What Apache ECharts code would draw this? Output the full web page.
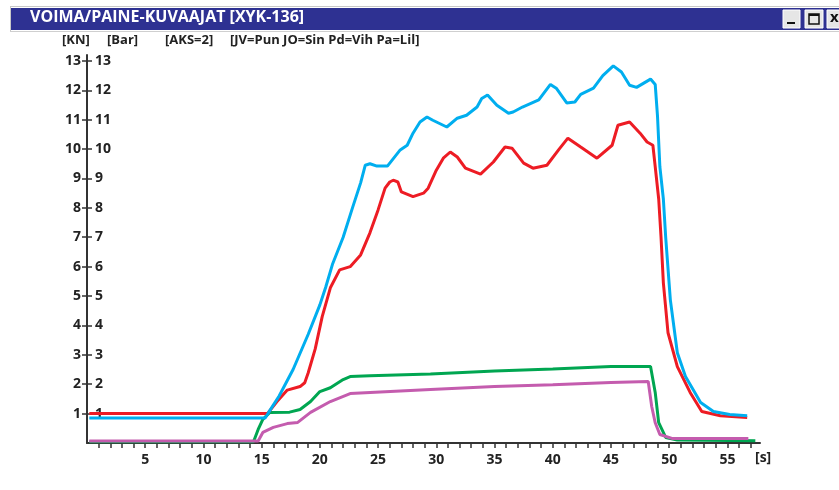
<!DOCTYPE html>
<html>
<head>
<meta charset="utf-8">
<script src="https://cdn.jsdelivr.net/npm/echarts@6/dist/echarts.min.js"></script>
<style>
html,body{margin:0;padding:0;background:#fff;}
#c{width:839px;height:490px;}
</style>
</head>
<body>
<div id="c"></div>
<script>
// ---- data ----
var titleText = 'VOIMA/PAINE-KUVAAJAT [XYK-136]';
var headerTexts = ['[KN]', '[Bar]', '[AKS=2]', '[JV=Pun JO=Sin Pd=Vih Pa=Lil]'];
var xTickValues = [];
for (var i = 1; i <= 57; i++) xTickValues.push(i);
var xLabelValues = [5, 10, 15, 20, 25, 30, 35, 40, 45, 50, 55];
var yTickValues = [1, 2, 3, 4, 5, 6, 7, 8, 9, 10, 11, 12, 13];
var xUnit = '[s]';

// JV = Pun (red)
var jvRed = [[0.2,1.0],[15.5,1.0],[16.3,1.4],[17.2,1.8],[18.3,1.92],[18.7,2.05],[19,2.39],[19.6,3.2],[20.2,4.3],[20.9,5.28],[21.7,5.89],[22.6,6.0],[23.5,6.4],[24.3,7.15],[25,7.93],[25.6,8.67],[26,8.88],[26.3,8.94],[26.7,8.88],[27,8.54],[28,8.38],[28.9,8.5],[29.3,8.67],[30,9.28],[30.6,9.69],[31.2,9.9],[31.8,9.73],[32.5,9.35],[33.8,9.15],[34.9,9.56],[35.9,10.07],[36.5,10.03],[37.5,9.52],[38.3,9.35],[39.5,9.45],[40.5,9.97],[41.3,10.37],[42.4,10.07],[43.8,9.69],[45.1,10.13],[45.6,10.81],[46.6,10.92],[47.5,10.54],[48.1,10.24],[48.6,10.13],[48.8,9.4],[49.1,8.3],[49.3,7.0],[49.5,5.45],[49.9,3.75],[50.7,2.6],[51.8,1.72],[52.8,1.07],[54.4,0.93],[56.7,0.87]];
// JO = Sin (blue)
var joBlue = [[0.2,0.85],[15.3,0.85],[15.6,1.04],[16.5,1.6],[17.7,2.5],[19,3.7],[20,4.7],[20.5,5.3],[21.1,6.1],[22,7.0],[22.8,8.0],[23.5,8.85],[23.9,9.45],[24.3,9.5],[24.9,9.42],[25.8,9.42],[26.9,9.97],[27.5,10.13],[28.0,10.54],[28.6,10.92],[29.2,11.09],[29.7,10.98],[30.9,10.75],[31.8,11.05],[32.6,11.15],[33.5,11.43],[33.9,11.72],[34.4,11.84],[35.2,11.49],[36.2,11.22],[36.6,11.26],[37.4,11.43],[38.8,11.67],[39.8,12.2],[40.3,12.07],[41.2,11.57],[41.9,11.6],[42.4,11.86],[43.5,12.07],[44.3,12.5],[45.2,12.83],[45.9,12.62],[46.6,12.17],[47.2,12.1],[48.4,12.38],[48.8,12.2],[49.0,11.1],[49.2,9.4],[49.5,8.3],[49.7,7.0],[50.1,4.87],[50.7,3.07],[51.4,2.26],[52.7,1.38],[53.8,1.07],[55.2,0.97],[56.7,0.93]];
// Pd = Vih (green)
var pdGreen = [[0.2,0.04],[14.3,0.04],[14.7,0.46],[15.1,0.8],[15.7,1.04],[17.4,1.05],[18.3,1.14],[19.2,1.41],[20,1.75],[20.9,1.88],[22,2.16],[22.6,2.26],[24.3,2.29],[29.5,2.35],[35,2.45],[40,2.52],[45,2.6],[48.4,2.6],[48.8,1.72],[49.1,0.69],[49.7,0.19],[50.7,0.1],[57.4,0.08]];
// Pa = Lil (lilac)
var paLilac = [[0.2,0.07],[14.7,0.07],[15.1,0.36],[16,0.53],[17.2,0.66],[18.1,0.7],[19.2,1.04],[20.9,1.41],[22.6,1.68],[29.5,1.82],[35,1.92],[40,1.98],[45,2.06],[48.2,2.09],[48.5,1.24],[48.8,0.69],[49.2,0.29],[50.3,0.15],[56.8,0.15]];

// ---- chart ----
var FONT = '"Open Sans", "Noto Sans", sans-serif';
var TXT = '#222';
var chart = echarts.init(document.getElementById('c'), null, {renderer: 'canvas'});

function mkLine(name, data, color) {
  return {
    name: name, type: 'line', data: data, symbol: 'none', smooth: false,
    lineStyle: {color: color, width: 3}, animation: false, silent: true
  };
}

var option = {
  backgroundColor: '#fff',
  animation: false,
  grid: {left: 87, right: 79, top: 55, bottom: 47},
  xAxis: {
    type: 'value', min: 0, max: 57.8,
    splitLine: {show: false},
    axisLine: {show: true, onZero: false, lineStyle: {color: '#333', width: 2}},
    axisTick: {show: true, length: 5, customValues: xTickValues, lineStyle: {color: '#333', width: 1.5}},
    axisLabel: {customValues: xLabelValues, color: TXT, fontFamily: FONT, fontWeight: 'bold', fontSize: 14, margin: 10}
  },
  yAxis: [{
    type: 'value', min: 0, max: 13.2, position: 'left',
    splitLine: {show: false},
    axisLine: {show: true, onZero: false, lineStyle: {color: '#333', width: 2}},
    axisTick: {show: true, length: 5, customValues: yTickValues, lineStyle: {color: '#333', width: 1.5}},
    axisLabel: {customValues: yTickValues, color: TXT, fontFamily: FONT, fontWeight: 'bold', fontSize: 14, margin: 6}
  }, {
    type: 'value', min: 0, max: 13.2, position: 'left', offset: 0,
    splitLine: {show: false},
    axisLine: {show: false},
    axisTick: {show: true, inside: true, length: 5, customValues: yTickValues, lineStyle: {color: '#333', width: 1.5}},
    axisLabel: {inside: true, customValues: yTickValues, color: TXT, fontFamily: FONT, fontWeight: 'bold', fontSize: 14, margin: 8}
  }],
  series: [
    mkLine('Pd', pdGreen, '#00a651'),
    mkLine('Pa', paLilac, '#c45cae'),
    mkLine('JV', jvRed, '#ed1c24'),
    mkLine('JO', joBlue, '#00aeef')
  ],
  graphic: [
    // window frame lines
    {type: 'rect', shape: {x: 10, y: 6, width: 829, height: 1}, style: {fill: '#c8c8c8'}, silent: true},
    {type: 'rect', shape: {x: 10, y: 6, width: 1, height: 25}, style: {fill: '#c8c8c8'}, silent: true},
    // title bar
    {type: 'rect', shape: {x: 11, y: 8, width: 828, height: 22}, style: {fill: '#2e3192'}, silent: true},
    {type: 'rect', shape: {x: 10, y: 31, width: 829, height: 1}, style: {fill: '#cfcfcf'}, silent: true},
    {type: 'text', left: 30, top: 9, style: {text: titleText, fill: '#fff', font: 'bold 16px ' + FONT}, silent: true},
    // buttons
    {type: 'rect', shape: {x: 783, y: 10, width: 17, height: 18}, style: {fill: '#e6e6e6', stroke: '#fff', lineWidth: 1}, silent: true},
    {type: 'rect', shape: {x: 787, y: 22, width: 8, height: 2}, style: {fill: '#111'}, silent: true},
    {type: 'rect', shape: {x: 805, y: 10, width: 18, height: 18}, style: {fill: '#e6e6e6', stroke: '#fff', lineWidth: 1}, silent: true},
    {type: 'rect', shape: {x: 809, y: 14, width: 10, height: 10}, style: {fill: 'none', stroke: '#111', lineWidth: 1.5}, silent: true},
    {type: 'rect', shape: {x: 809, y: 14, width: 10, height: 2}, style: {fill: '#111'}, silent: true},
    {type: 'rect', shape: {x: 827, y: 10, width: 18, height: 18}, style: {fill: '#e6e6e6', stroke: '#fff', lineWidth: 1}, silent: true},
    {type: 'text', left: 830, top: 10, style: {text: 'x', fill: '#111', font: 'bold 15px ' + FONT}, silent: true},
    // header
    {type: 'text', left: 62, top: 34, style: {text: headerTexts[0], fill: TXT, font: 'bold 13px ' + FONT}, silent: true},
    {type: 'text', left: 107, top: 34, style: {text: headerTexts[1], fill: TXT, font: 'bold 13px ' + FONT}, silent: true},
    {type: 'text', left: 165, top: 34, style: {text: headerTexts[2], fill: TXT, font: 'bold 13px ' + FONT}, silent: true},
    {type: 'text', left: 230, top: 34, style: {text: headerTexts[3], fill: TXT, font: 'bold 13px ' + FONT}, silent: true},
    // x unit
    {type: 'text', left: 755, top: 451, style: {text: xUnit, fill: TXT, font: 'bold 14px ' + FONT}, silent: true}
  ]
};
chart.setOption(option);
</script>
</body>
</html>
